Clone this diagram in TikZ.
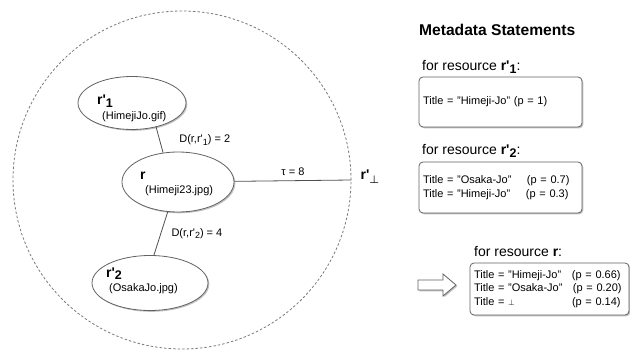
\documentclass[tikz,border=0pt]{standalone}
\usepackage{fontspec}
\setmainfont{Liberation Sans}
\usetikzlibrary{shapes.geometric,shadows,positioning}

\definecolor{edgegray}{HTML}{505050}
\definecolor{rimgray}{HTML}{626262}
\definecolor{zonegray}{HTML}{7A7A7A}

\newcommand{\rp}[1]{\textbf{r\textquotesingle\raisebox{-0.4ex}{\fontsize{12.5}{13}\selectfont #1}}}
\newcommand{\sub}[1]{\raisebox{-0.45ex}{\fontsize{9}{10}\selectfont #1}}
\newcommand{\smalltxt}{\fontsize{11}{13.6}\selectfont}
\newcommand{\bigtxt}{\fontsize{14}{16}\selectfont}

\tikzset{
        soft/.style={drop shadow={shadow xshift=1.3pt, shadow yshift=-1.3pt, opacity=.35, fill=black!70}},
        res/.style={ellipse, draw=rimgray, thick, fill=white, soft, inner sep=0pt},
        rname/.style={inner sep=0pt, anchor=base west, font=\bigtxt},
        rfile/.style={inner sep=0pt, anchor=base west, font=\smalltxt},
        box/.style={rectangle, rounded corners=4pt, draw=rimgray, thick, fill=white, soft, minimum height=50pt,
                text width=155pt, inner xsep=4pt, align=left, font=\smalltxt},
        lbl/.style={inner sep=0pt, anchor=base west, font=\bigtxt},
        link/.style={draw=edgegray, thick}
}

\begin{document}
\begin{tikzpicture}[x=1pt, y=-1pt]
        \useasboundingbox (0, 0) rectangle (630, 350);

        \node[circle, draw=zonegray, thick, dash pattern=on 2.5pt off 2pt, minimum size=338pt] at (182, 180)(zone){};

        \node[res, minimum width=108pt, minimum height=53pt] at (132, 103)(r1){};
        \node[res, minimum width=112pt, minimum height=60pt] at (178, 182)(r){};
        \node[res, minimum width=116pt, minimum height=55pt] at (150, 283)(r2){};

        \node[rname] at (97, 105)(r1n){\rp{1}};
        \node[rfile] at (102, 120)(r1f){(HimejiJo.gif)};
        \node[rname] at (140, 180)(rn){\textbf{r}};
        \node[rfile] at (145, 194)(rf){(Himeji23.jpg)};
        \node[rname] at (106, 277)(r2n){\rp{2}};
        \node[rfile] at (109, 291)(r2f){(OsakaJo.jpg)};

        \node[inner sep=0pt, font=\bigtxt] at (370, 177)(rbot)
                {\textbf{r\textquotesingle}\raisebox{-0.5ex}{\fontsize{11}{12}\selectfont\boldmath$\bot$}};

        \path[link]
        (r1.315) edge node[right=16pt, font=\smalltxt]{D(r,r\textquotesingle\sub{1}) = 2} (r.117)
        (r.251) edge node[right=7pt, font=\smalltxt]{D(r,r\textquotesingle\sub{2}) = 4} (r2.82)
        (r) edge node[above=1pt, font=\smalltxt]{τ = 8} (zone.east)
        ;

        \node[lbl, font=\fontsize{15.6}{18}\selectfont\bfseries] at (419, 36)(head){Metadata Statements};

        \node[lbl] at (422, 71)(for1){for resource \rp{1}:};
        \node[box, minimum height=50pt] at (500.5, 102)(b1){Title = "Himeji-Jo" (p = 1)};

        \node[lbl] at (422, 155)(for2){for resource \rp{2}:};
        \node[box, minimum height=51pt] at (500.5, 187.5)(b2)
                {\makebox[104pt][l]{Title = "Osaka-Jo"}(p = 0.7)\\
                 \makebox[103pt][l]{Title = "Himeji-Jo"}(p = 0.3)};

        \node[lbl] at (474, 257)(for3){for resource \textbf{r}:};
        \node[box, text width=151pt, minimum height=52pt] at (549.5, 289)(b3)
                {\makebox[98pt][l]{Title = "Himeji-Jo"}(p = 0.66)\\
                 \makebox[99pt][l]{Title = "Osaka-Jo"}(p = 0.20)\\
                 \makebox[98pt][l]{Title = $\scriptstyle\bot$}(p = 0.14)};

        \draw[draw=rimgray, thick, fill=white, soft]
        (418, 280) -- (443, 280) -- (443, 274) -- (456, 285) -- (443, 296) -- (443, 290) -- (418, 290) -- cycle;
\end{tikzpicture}
\end{document}
